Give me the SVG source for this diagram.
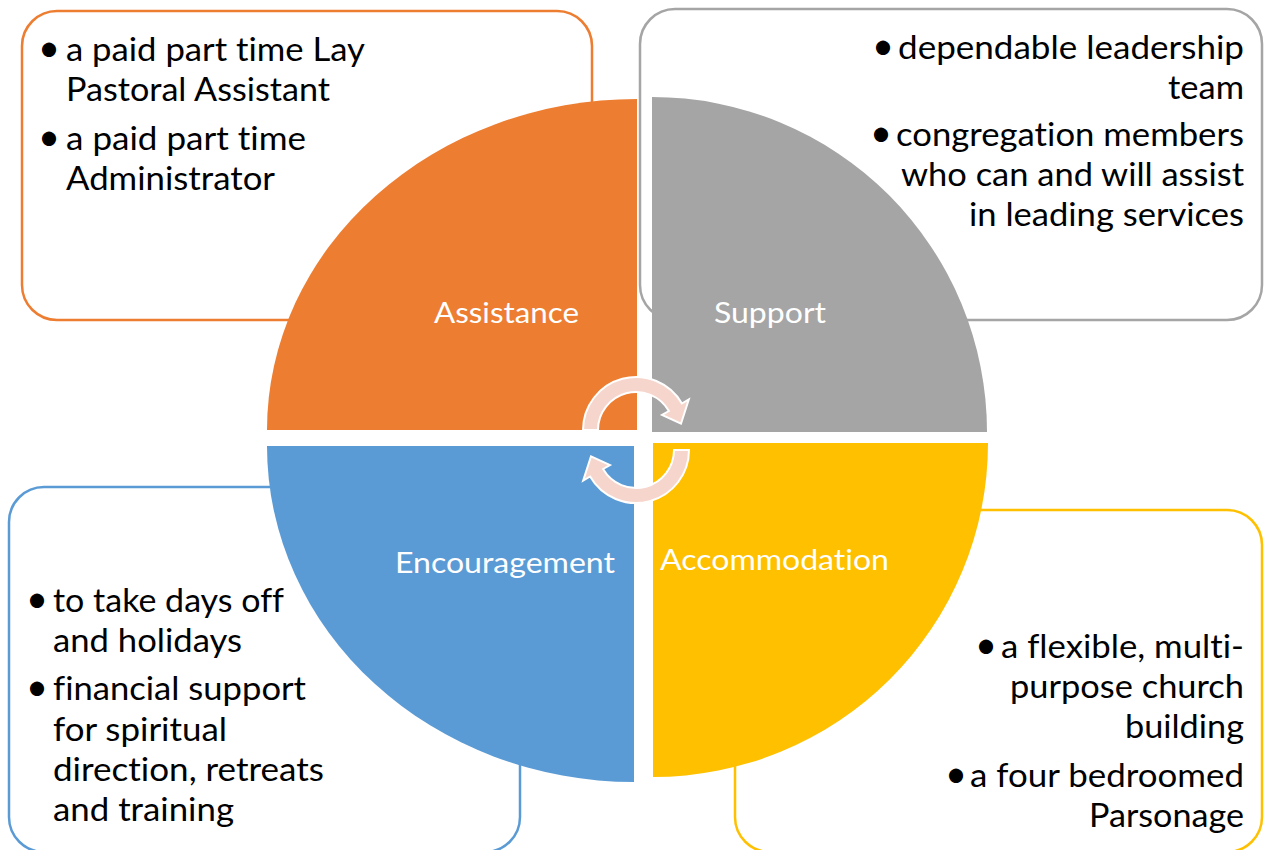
<svg xmlns="http://www.w3.org/2000/svg" width="1264" height="850" viewBox="0 0 1264 850">
<style>
.box{fill:#FFFFFF;stroke-width:2.5}
.t{font-family:Lato,"Liberation Sans",sans-serif;font-size:32px;fill:#000000;font-variant-ligatures:none}
.b{font-family:Lato,"Liberation Sans",sans-serif;font-size:38px;fill:#000000}
.lbl{font-family:Lato,"Liberation Sans",sans-serif;font-size:28px;fill:#FFFFFF;font-variant-ligatures:none}
.arr{fill:#F6D6CC;stroke:#FFFFFF;stroke-width:2;stroke-linejoin:miter}
</style>
<rect width="1264" height="850" fill="#FFFFFF"/>
<g id="box-assistance">
<rect class="box" x="22" y="11" width="570" height="309" rx="35" stroke="#ED7D31"/>
<text class="b" x="49" y="61" text-anchor="middle">•</text>
<text class="t" x="66" y="61" textLength="299" lengthAdjust="spacingAndGlyphs">a paid part time Lay</text>
<text class="t" x="66" y="101" textLength="264" lengthAdjust="spacingAndGlyphs">Pastoral Assistant</text>
<text class="b" x="49" y="150" text-anchor="middle">•</text>
<text class="t" x="66" y="150" textLength="240" lengthAdjust="spacingAndGlyphs">a paid part time</text>
<text class="t" x="66" y="190" textLength="209" lengthAdjust="spacingAndGlyphs">Administrator</text>
</g>
<g id="box-support">
<rect class="box" x="640" y="9" width="622" height="311" rx="35" stroke="#A5A5A5"/>
<text class="b" x="883" y="59" text-anchor="middle">•</text>
<text class="t" x="898" y="59" textLength="346" lengthAdjust="spacingAndGlyphs">dependable leadership</text>
<text class="t" x="1168" y="99" textLength="76" lengthAdjust="spacingAndGlyphs">team</text>
<text class="b" x="881" y="146" text-anchor="middle">•</text>
<text class="t" x="896" y="146" textLength="348" lengthAdjust="spacingAndGlyphs">congregation members</text>
<text class="t" x="901" y="186" textLength="343" lengthAdjust="spacingAndGlyphs">who can and will assist</text>
<text class="t" x="969" y="226" textLength="275" lengthAdjust="spacingAndGlyphs">in leading services</text>
</g>
<g id="box-encouragement">
<rect class="box" x="9" y="487" width="511" height="365" rx="35" stroke="#5B9BD5"/>
<text class="b" x="37" y="612" text-anchor="middle">•</text>
<text class="t" x="53" y="612" textLength="231" lengthAdjust="spacingAndGlyphs">to take days off</text>
<text class="t" x="53" y="652" textLength="189" lengthAdjust="spacingAndGlyphs">and holidays</text>
<text class="b" x="37" y="700" text-anchor="middle">•</text>
<text class="t" x="53" y="700" textLength="253" lengthAdjust="spacingAndGlyphs">financial support</text>
<text class="t" x="53" y="741" textLength="174" lengthAdjust="spacingAndGlyphs">for spiritual</text>
<text class="t" x="53" y="781" textLength="271" lengthAdjust="spacingAndGlyphs">direction, retreats</text>
<text class="t" x="53" y="821" textLength="181" lengthAdjust="spacingAndGlyphs">and training</text>
</g>
<g id="box-accommodation">
<rect class="box" x="735" y="510" width="527" height="342" rx="35" stroke="#FFC000"/>
<text class="b" x="986" y="658" text-anchor="middle">•</text>
<text class="t" x="1001" y="658" textLength="243" lengthAdjust="spacingAndGlyphs">a flexible, multi-</text>
<text class="t" x="1010" y="698" textLength="234" lengthAdjust="spacingAndGlyphs">purpose church</text>
<text class="t" x="1125" y="738" textLength="119" lengthAdjust="spacingAndGlyphs">building</text>
<text class="b" x="956" y="787" text-anchor="middle">•</text>
<text class="t" x="970" y="787" textLength="274" lengthAdjust="spacingAndGlyphs">a four bedroomed</text>
<text class="t" x="1089" y="827" textLength="155" lengthAdjust="spacingAndGlyphs">Parsonage</text>
</g>
<g id="quad-assistance">
<path d="M637 430 L267 430 A370 331 0 0 1 637 99 Z" fill="#ED7D31"/>
<text class="lbl" x="434" y="323" textLength="145" lengthAdjust="spacingAndGlyphs">Assistance</text>
</g>
<g id="quad-support">
<path d="M652 432 L652 97 A335 335 0 0 1 987 432 Z" fill="#A5A5A5"/>
<text class="lbl" x="714" y="323" textLength="112" lengthAdjust="spacingAndGlyphs">Support</text>
</g>
<g id="quad-encouragement">
<path d="M634 446 L634 782 A367 336 0 0 1 267 446 Z" fill="#5B9BD5"/>
<text class="lbl" x="395" y="573" textLength="220" lengthAdjust="spacingAndGlyphs">Encouragement</text>
</g>
<g id="quad-accommodation">
<path d="M653 443 L988 443 A335 334 0 0 1 653 777 Z" fill="#FFC000"/>
<text class="lbl" x="660" y="570" textLength="229" lengthAdjust="spacingAndGlyphs">Accommodation</text>
</g>
<g id="connectors">
<path class="arr" d="M583 430 A53 53 0 0 1 681.9 403.5 L688.8 399.5 L681 423.7 L662 415 L668.9 411 A38 38 0 0 0 598 430 Z"/>
<path class="arr" d="M689 450 A53 53 0 0 1 590.1 476.5 L583.2 480.5 L591 456.3 L610 465 L603.1 469 A38 38 0 0 0 674 450 Z"/>
</g>
</svg>
